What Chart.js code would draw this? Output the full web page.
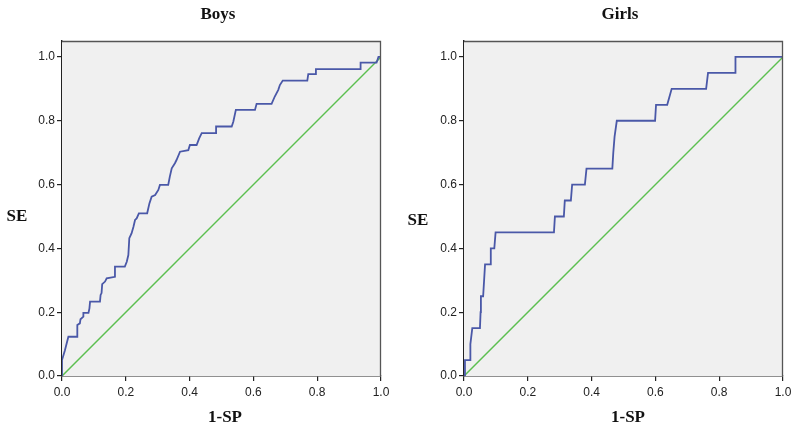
<!DOCTYPE html>
<html>
<head>
<meta charset="utf-8">
<script src="https://cdn.jsdelivr.net/npm/chart.js@4.4.1/dist/chart.umd.min.js"></script>
<style>
    body { margin: 0; background: #fff; }
    #wrap { position: relative; width: 800px; height: 428px; overflow: hidden; }
    canvas { position: absolute; top: 0; }
    .lbl { position: absolute; font: bold 17px "Liberation Serif", "Times New Roman", serif; line-height: 17px; color: #111; white-space: nowrap; transform: translateX(-50%); }
</style>
</head>
<body>
<div id="wrap">
    <canvas id="boysChart" width="400" height="428" style="left:0"></canvas>
    <canvas id="girlsChart" width="400" height="428" style="left:400px"></canvas>
    <div class="lbl" style="left:218px; top:5px">Boys</div>
    <div class="lbl" style="left:620px; top:5px">Girls</div>
    <div class="lbl" style="left:225px; top:408px">1-SP</div>
    <div class="lbl" style="left:628px; top:408px">1-SP</div>
    <div class="lbl" style="left:17px; top:207px">SE</div>
    <div class="lbl" style="left:418px; top:211px">SE</div>
</div>
<script>
// ROC curve values
const boysFpr = [0, 0, 0.009, 0.02, 0.048, 0.048, 0.056, 0.058, 0.067, 0.067, 0.083, 0.086, 0.088, 0.119, 0.121, 0.124, 0.126, 0.135, 0.14, 0.166, 0.166, 0.197, 0.203, 0.208, 0.211, 0.218, 0.224, 0.229, 0.234, 0.241, 0.267, 0.274, 0.281, 0.292, 0.302, 0.307, 0.333, 0.338, 0.344, 0.354, 0.359, 0.37, 0.396, 0.401, 0.422, 0.43, 0.438, 0.483, 0.483, 0.532, 0.537, 0.545, 0.605, 0.61, 0.657, 0.667, 0.678, 0.683, 0.692, 0.769, 0.772, 0.796, 0.796, 0.936, 0.936, 0.986, 0.992, 1];
const boysTpr = [0, 0.05, 0.08, 0.123, 0.123, 0.16, 0.165, 0.178, 0.186, 0.198, 0.198, 0.212, 0.233, 0.233, 0.254, 0.26, 0.288, 0.296, 0.306, 0.311, 0.343, 0.343, 0.358, 0.379, 0.432, 0.447, 0.468, 0.489, 0.494, 0.51, 0.51, 0.541, 0.562, 0.567, 0.583, 0.599, 0.599, 0.625, 0.651, 0.667, 0.677, 0.703, 0.708, 0.724, 0.724, 0.745, 0.761, 0.761, 0.782, 0.782, 0.797, 0.834, 0.834, 0.853, 0.853, 0.876, 0.897, 0.912, 0.926, 0.926, 0.946, 0.946, 0.962, 0.962, 0.982, 0.982, 1, 1];

const girlsFpr = [0, 0.003, 0.019, 0.02, 0.026, 0.05, 0.052, 0.053, 0.06, 0.066, 0.082, 0.084, 0.095, 0.099, 0.282, 0.285, 0.313, 0.316, 0.335, 0.339, 0.379, 0.384, 0.465, 0.468, 0.472, 0.479, 0.599, 0.602, 0.637, 0.651, 0.759, 0.765, 0.85, 0.851, 1];
const girlsTpr = [0, 0.05, 0.05, 0.1, 0.15, 0.15, 0.2, 0.25, 0.25, 0.35, 0.35, 0.4, 0.4, 0.45, 0.45, 0.5, 0.5, 0.55, 0.55, 0.6, 0.6, 0.65, 0.65, 0.7, 0.75, 0.8, 0.8, 0.85, 0.85, 0.9, 0.9, 0.95, 0.95, 1, 1];

const diagX = [0, 1];
const diagY = [0, 1];
const tickValues = [0, 0.2, 0.4, 0.6, 0.8, 1.0];

const toPoints = (xs, ys) => xs.map((x, i) => ({ x: x, y: ys[i] }));

// plot background and top/right frame
const framePlugin = {
    id: 'frame',
    beforeDatasetsDraw(chart) {
        const { ctx, chartArea: a } = chart;
        ctx.save();
        ctx.fillStyle = '#f0f0f0';
        ctx.fillRect(a.left, a.top, a.width, a.height);
        ctx.restore();
    },
    afterDraw(chart) {
        const { ctx, chartArea: a } = chart;
        ctx.save();
        ctx.strokeStyle = '#555';
        ctx.lineWidth = 1.3;
        ctx.beginPath();
        ctx.moveTo(a.left, a.top + 0.5);
        ctx.lineTo(a.right - 0.5, a.top + 0.5);
        ctx.lineTo(a.right - 0.5, a.bottom);
        ctx.stroke();
        ctx.restore();
    }
};

function makeRoc(id, fpr, tpr, padLeft, padRight) {
    const tickFont = { family: '"Liberation Sans", Arial, sans-serif', size: 12 };
    const axisCommon = {
        type: 'linear',
        min: 0,
        grid: { drawOnChartArea: false, tickLength: 5, color: '#222', lineWidth: 1.2 },
        border: { color: '#222', width: 1.4 },
        afterBuildTicks: scale => { scale.ticks = tickValues.map(v => ({ value: v })); },
    };

    new Chart(document.getElementById(id), {
        type: 'line',
        data: {
            datasets: [
                {
                    data: toPoints(fpr, tpr),
                    borderColor: '#4a58a8',
                    borderWidth: 1.8,
                    pointRadius: 0,
                    tension: 0,
                    fill: false
                },
                {
                    data: toPoints(diagX, diagY),
                    borderColor: '#5cbf50',
                    borderWidth: 1.5,
                    pointRadius: 0,
                    fill: false
                }
            ]
        },
        options: {
            responsive: false,
            animation: false,
            layout: { padding: { left: padLeft, right: padRight, top: 41, bottom: 22 } },
            plugins: { legend: { display: false }, tooltip: { enabled: false }, title: { display: false } },
            scales: {
                x: Object.assign({}, axisCommon, {
                    max: 1,
                    ticks: { font: tickFont, color: '#222', padding: 4, maxRotation: 0, callback: v => v.toFixed(1) },
                    afterFit: s => { s.height = 30; }
                }),
                y: Object.assign({}, axisCommon, {
                    max: 1.05,
                    ticks: { font: tickFont, color: '#222', padding: 2, callback: v => v.toFixed(1) },
                    afterFit: s => { s.width = 40; }
                })
            }
        },
        plugins: [framePlugin]
    });
}

makeRoc('boysChart', boysFpr, boysTpr, 22, 19);
makeRoc('girlsChart', girlsFpr, girlsTpr, 24, 17);
</script>
</body>
</html>
